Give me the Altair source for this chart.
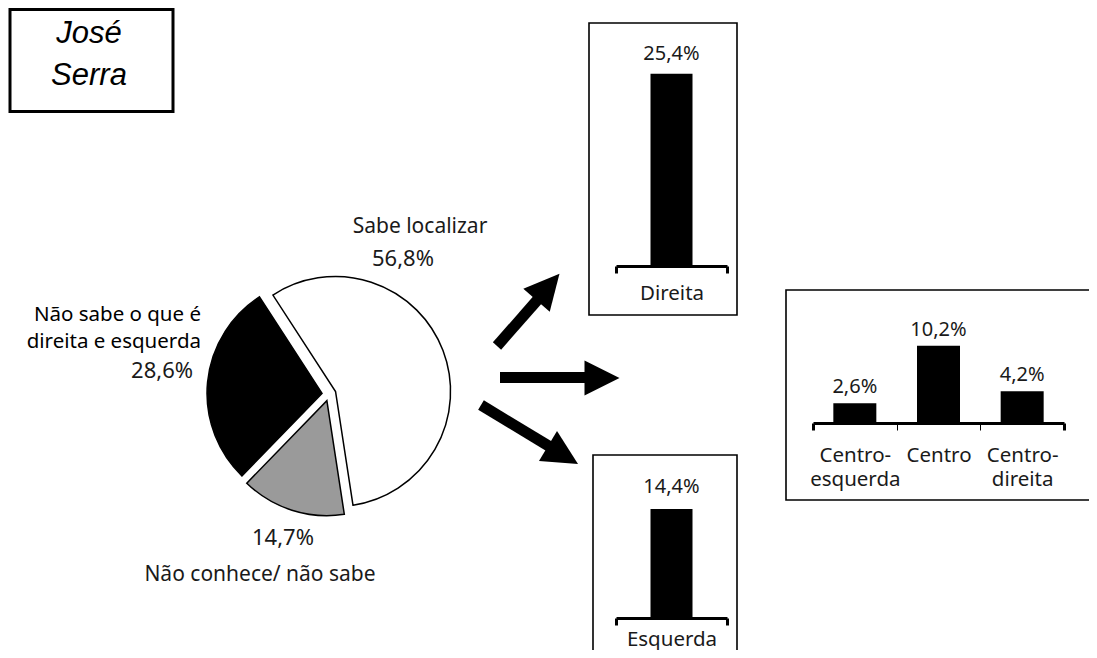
import math
import altair as alt
import pandas as pd

# ---------------- data ----------------
TITLE_LINES = ["José", "Serra"]

PIE_LABELS = ["Sabe localizar", "Não conhece/ não sabe", "Não sabe o que é\ndireita e esquerda"]
PIE_VALUES = [56.8, 14.7, 28.6]
PIE_COLORS = ["white", "#9a9a9a", "black"]

DIREITA_CATS = ["Direita"]
DIREITA_VALUES = [25.4]

CENTRO_CATS = ["Centro-esquerda", "Centro", "Centro-direita"]
CENTRO_VALUES = [2.6, 10.2, 4.2]

ESQUERDA_CATS = ["Esquerda"]
ESQUERDA_VALUES = [14.4]


def pct(v):
    return f"{v:.1f}".replace(".", ",") + "%"


# ---------------- layout helpers ----------------
W, H = 1081, 642
OFF = 8
FONT = "Noto Sans"
TXT = "#1a1a1a"
DUMMY = alt.Data(values=[{}])


def px(v):
    return v - OFF


layers = []

# title box
layers.append(
    alt.Chart(DUMMY).mark_rect(fill="white", stroke="black", strokeWidth=3).encode(
        x=alt.value(px(10)), x2=alt.value(px(173)), y=alt.value(px(9.5)), y2=alt.value(px(111.5))
    )
)
layers.append(
    alt.Chart(DUMMY).mark_text(
        font="Liberation Sans", fontStyle="italic", fontSize=31, color="black",
        align="center", baseline="middle", lineHeight=42,
    ).encode(x=alt.value(px(89)), y=alt.value(px(34)), text=alt.value(TITLE_LINES))
)

# panel boxes
for (x0, y0, x1, y1) in [(589, 23, 737, 315), (786, 290, 1092, 500), (593, 455, 737, 700)]:
    layers.append(
        alt.Chart(DUMMY).mark_rect(fillOpacity=0, stroke="black", strokeWidth=1.6).encode(
            x=alt.value(px(x0)), x2=alt.value(px(x1)), y=alt.value(px(y0)), y2=alt.value(px(y1))
        )
    )

# ---------------- pie ----------------
total = sum(PIE_VALUES)
pie_df = pd.DataFrame({"idx": list(range(len(PIE_VALUES))), "label": PIE_LABELS, "value": PIE_VALUES})
pie_df["end"] = pie_df["value"].cumsum()
pie_df["start"] = pie_df["end"] - pie_df["value"]
pie_df["pct"] = [pct(v) for v in PIE_VALUES]

A0 = math.radians(-33)
theta_scale = alt.Scale(domain=[0, total], range=[A0, A0 + 2 * math.pi])
CX, CY, EXPLODE, R = px(329), px(394), 7, 115

for i, row in pie_df.iterrows():
    mid = A0 + 2 * math.pi * (row["start"] + row["end"]) / 2 / total
    cx = CX + EXPLODE * math.sin(mid)
    cy = CY - EXPLODE * math.cos(mid)
    layers.append(
        alt.Chart(pie_df)
        .transform_filter(alt.datum.idx == int(row["idx"]))
        .mark_arc(radius=R, stroke="black", strokeWidth=1.5, fill=PIE_COLORS[i])
        .encode(theta=alt.Theta("start:Q", scale=theta_scale), theta2="end:Q",
                x=alt.value(cx), y=alt.value(cy))
    )

# pie labels
def pie_text(idx, field, x, y, align="center", color=TXT, size=21):
    return (
        alt.Chart(pie_df)
        .transform_filter(alt.datum.idx == idx)
        .mark_text(font=FONT, fontSize=size, color=color, align=align, baseline="middle",
                   lineBreak="\n", lineHeight=27)
        .encode(text=f"{field}:N", x=alt.value(px(x)), y=alt.value(px(y)))
    )

layers += [
    pie_text(0, "label", 420, 227),
    pie_text(0, "pct", 403, 259, size=22),
    pie_text(2, "label", 201, 315, align="right", color="black", size=20.5),
    pie_text(2, "pct", 193, 371, align="right", size=22),
    pie_text(1, "pct", 283, 538, size=22),
    pie_text(1, "label", 260, 575),
]

# ---------------- arrows ----------------
ARROWS = [
    # tail, shaft end, head centre, angle
    ((497, 346), (540, 297), (548, 287), 311),
    ((500, 377.5), (588, 377.5), (602, 378), 0),
    ((481, 405), (552, 448), (563, 455), 31),
]
for (t, s, hc, ang) in ARROWS:
    layers.append(
        alt.Chart(DUMMY).mark_rule(color="black", strokeWidth=11, strokeCap="butt").encode(
            x=alt.value(px(t[0])), y=alt.value(px(t[1])), x2=alt.value(px(s[0])), y2=alt.value(px(s[1]))
        )
    )
    layers.append(
        alt.Chart(DUMMY).mark_point(shape="M1,0L-1,-1L-1,1Z", size=1225, filled=True,
                                    color="black", opacity=1, angle=ang).encode(
            x=alt.value(px(hc[0])), y=alt.value(px(hc[1]))
        )
    )

# ---------------- bar panels ----------------
K = 7.57  # px per percentage point


def panel(cats, vals, x0, x1, base, bar_w, text_dy, label_pad, centro=False):
    df = pd.DataFrame({"cat": cats, "val": vals, "txt": [pct(v) for v in vals]})
    b = px(base)
    xs = alt.Scale(domain=cats, range=[px(x0), px(x1)], paddingInner=0, paddingOuter=0)
    ys = alt.Scale(domain=[0, 30], range=[b, b - 30 * K], nice=False)
    ax = dict(orient="bottom", offset=b - H, title=None, domain=True, domainColor="black",
              domainWidth=3, ticks=True, tickBand="extent", tickColor="black", tickSize=7,
              tickWidth=3, labelFont=FONT, labelFontSize=20.5, labelColor=TXT, labelAngle=0,
              labelPadding=label_pad, labelOverlap=False, labelBound=False, grid=False)
    if centro:
        ax["tickWidth"] = {"condition": {"test": "datum.value == 'Centro-esquerda' || datum.value == 'Centro'",
                                         "value": 1}, "value": 3}
        ax["labelExpr"] = "datum.label == 'Centro' ? datum.label : split(replace(datum.label, '-', '-|'), '|')"
        ax["labelLineHeight"] = 24
    enc = alt.Chart(df).encode(
        x=alt.X("cat:N", scale=xs, axis=alt.Axis(**ax)),
        y=alt.Y("val:Q", scale=ys, axis=None),
    )
    bars = enc.mark_bar(width=bar_w, color="black")
    text = enc.mark_text(font=FONT, fontSize=20, color=TXT, baseline="middle", dy=text_dy).encode(text="txt:N")
    return alt.layer(bars, text)


layers.append(panel(DIREITA_CATS, DIREITA_VALUES, 616, 727, 266, 42, -20, 10))
layers.append(panel(CENTRO_CATS, CENTRO_VALUES, 813, 1064, 423, 43, -16, 15, centro=True))
layers.append(panel(ESQUERDA_CATS, ESQUERDA_VALUES, 616, 727, 618, 42, -22, 4))

chart = (
    alt.layer(*layers)
    .resolve_scale(x="independent", y="independent")
    .properties(width=W, height=H, autosize=alt.AutoSizeParams(type="none"), padding=0)
    .configure_view(stroke=None)
)

chart.save("out.html", embed_options={"renderer": "svg", "actions": False})
